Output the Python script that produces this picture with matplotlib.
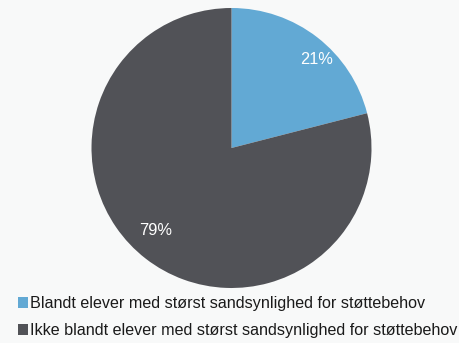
import matplotlib
matplotlib.use("Agg")
import matplotlib.pyplot as plt
from matplotlib.patches import Patch

# data
labels = ["Blandt elever med størst sandsynlighed for støttebehov",
          "Ikke blandt elever med størst sandsynlighed for støttebehov"]
values = [21, 79]
colors = ["#62A9D4", "#515257"]
BG = "#F8F9F9"

plt.rcParams["font.family"] = ["Liberation Sans", "DejaVu Sans"]

W, H = 459, 343
fig = plt.figure(figsize=(W / 100, H / 100), dpi=100, facecolor=BG)

# pie axes: centre (231.5, 148) px, radius 140 px
cx, cy, r = 231.5, 148, 140
ax = fig.add_axes([(cx - r) / W, (H - cy - r) / H, 2 * r / W, 2 * r / H])
ax.set_facecolor(BG)
wedges, texts, autotexts = ax.pie(values, colors=colors, startangle=90,
                                  counterclock=False, radius=1,
                                  autopct=lambda p: f"{p:.0f}%",
                                  textprops=dict(color="white", fontsize=11.8),
                                  wedgeprops=dict(linewidth=0))
# nudge the percentage labels to where the original puts them
autotexts[0].set_position((0.61, 0.63))
autotexts[1].set_position((-0.54, -0.59))
ax.set_xlim(-1, 1)
ax.set_ylim(-1, 1)
ax.set_aspect("equal")
ax.axis("off")

handles = [Patch(facecolor=c, edgecolor="none") for c in colors]
fig.legend(handles, labels, loc="upper left", bbox_to_anchor=(18 / W, 1 - 296 / H),
           frameon=False, fontsize=11.6, handlelength=0.62, handleheight=0.62,
           handletextpad=0.12, labelspacing=0.75, borderaxespad=0, borderpad=0,
           labelcolor="#1A1A1A")

fig.savefig("out.png", dpi=100, facecolor=BG)
